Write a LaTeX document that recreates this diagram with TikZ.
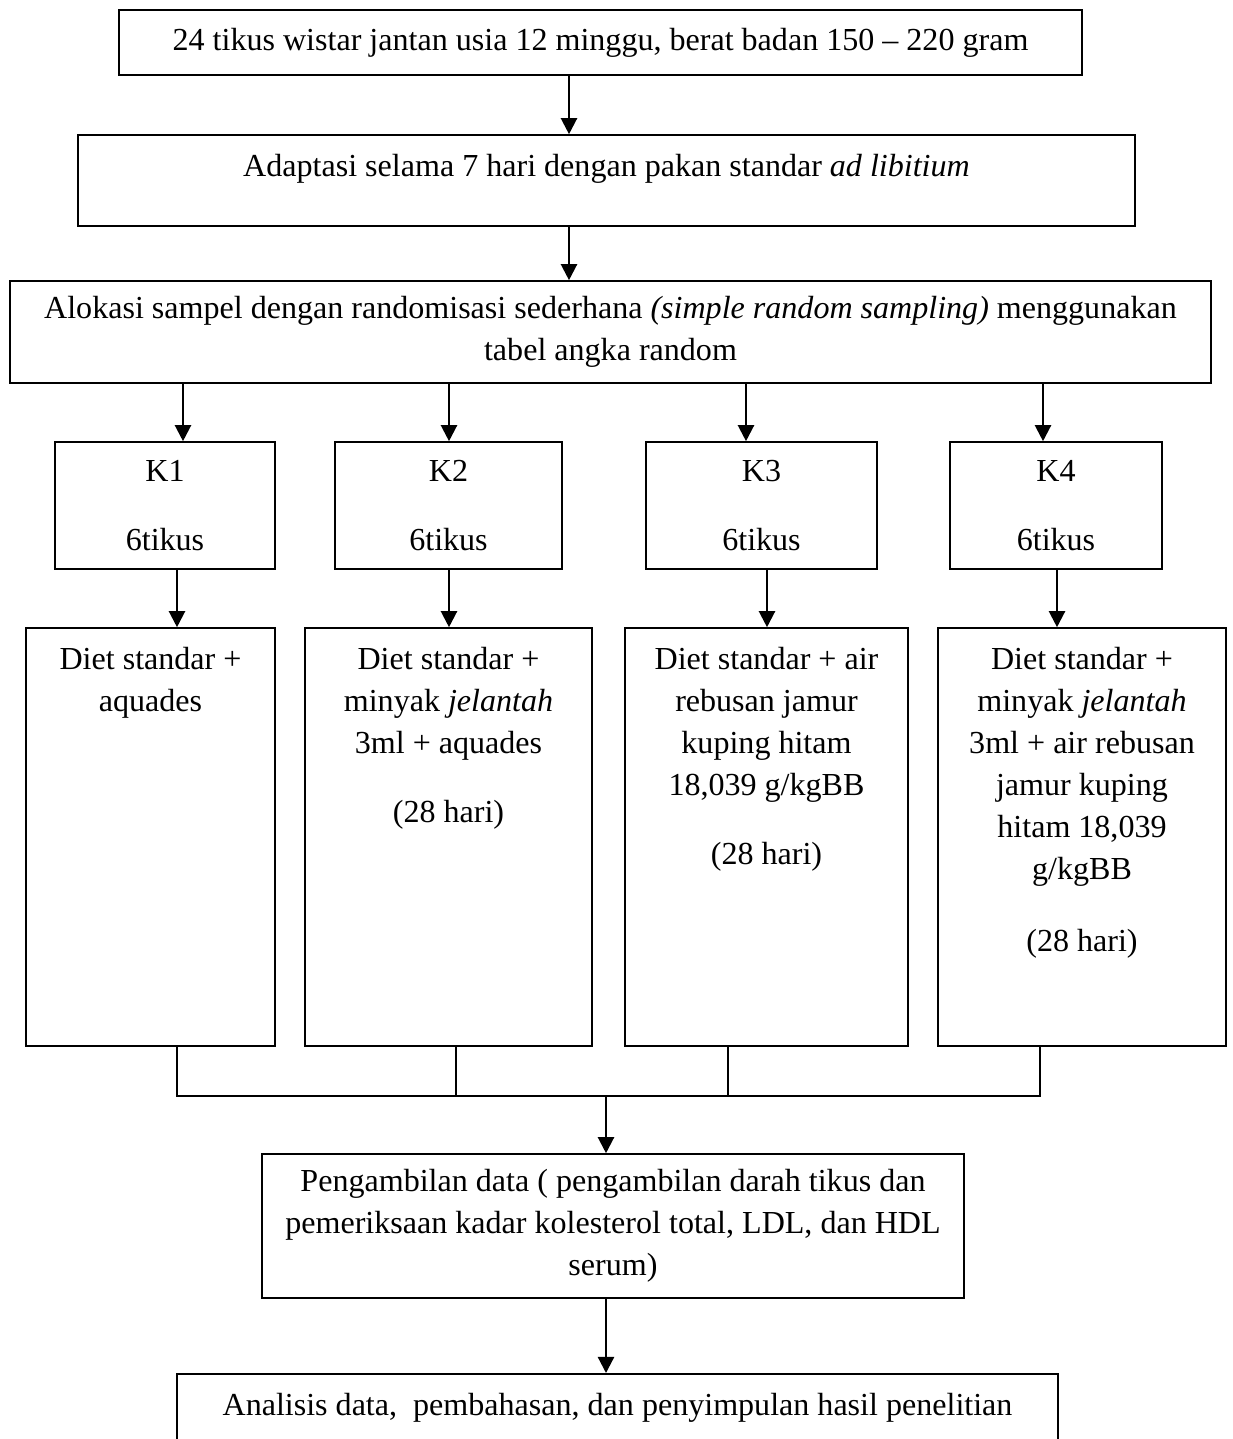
\documentclass[tikz,border=0pt]{standalone}
\usepackage{fontspec}
\setmainfont{Liberation Serif}
\usetikzlibrary{calc,arrows.meta,positioning}
\newlength{\px}
\setlength{\px}{0.40545pt}

\begin{document}
\begin{tikzpicture}[x=\px, y=-\px,
  font=\fontsize{13pt}{17pt}\selectfont,
  box/.style={draw, line width=0.65pt, inner sep=0pt, align=center},
  txt/.style={inner sep=0pt, align=center, anchor=north},
  flow/.style={line width=0.9pt, -{Triangle[width=6.5pt,length=6.5pt]}},
  busline/.style={line width=0.5pt}]
\useasboundingbox (0,0) rectangle (1232,1439);
\clip (0,0) rectangle (1232,1439);

% top of the flow
\node[box, minimum width=963\px, minimum height=65\px] (rats) at (600.5,42.5)
  {24 tikus wistar jantan usia 12 minggu, berat badan 150 -- 220 gram};
\node[box, minimum width=1057\px, minimum height=91\px] (adapt) at (606.5,180.5) {};
\node[txt] (adapttxt) at ($(adapt.north)+(0,20)$)
  {Adaptasi selama 7 hari dengan pakan standar \textit{ad libitium}};
\node[box, minimum width=1201\px, minimum height=102\px] (alloc) at (610.5,332)
  {Alokasi sampel dengan randomisasi sederhana \textit{(simple random sampling)} menggunakan\\
   tabel angka random};
\draw[flow] (rats.south -| 569,0) -- (adapt.north -| 569,0);
\draw[flow] (adapt.south -| 569,0) -- (alloc.north -| 569,0);

% groups
\foreach \n/\cx/\w in {1/165/220, 2/448.5/227, 3/761.5/231, 4/1056/212}
  \node[box, minimum width=\w\px, minimum height=127\px] (k\n) at (\cx,505.5) {K\n\\[11pt]6tikus};
\draw[flow] (alloc.south -| 183,0) -- (k1.north -| 183,0);
\draw[flow] (alloc.south -| 449,0) -- (k2.north -| 449,0);
\draw[flow] (alloc.south -| 746,0) -- (k3.north -| 746,0);
\draw[flow] (alloc.south -| 1043,0) -- (k4.north -| 1043,0);

% treatments
\node[box, minimum width=249\px, minimum height=418\px] (d1) at (150.5,837) {};
\node[box, minimum width=287\px, minimum height=418\px] (d2) at (448.5,837) {};
\node[box, minimum width=283\px, minimum height=418\px] (d3) at (766.5,837) {};
\node[box, minimum width=288\px, minimum height=418\px] (d4) at (1082,837) {};
\node[txt] (d1txt) at ($(d1.north)+(0,20)$) {Diet standar +\\ aquades};
\node[txt] (d2txt) at ($(d2.north)+(0,20)$)
  {Diet standar +\\ minyak \textit{jelantah}\\ 3ml + aquades\\[11pt] (28 hari)};
\node[txt] (d3txt) at ($(d3.north)+(0,20)$)
  {Diet standar + air\\ rebusan jamur\\ kuping hitam\\ 18,039 g/kgBB\\[11pt] (28 hari)};
\node[txt] (d4txt) at ($(d4.north)+(0,20)$)
  {Diet standar +\\ minyak \textit{jelantah}\\ 3ml + air rebusan\\ jamur kuping\\ hitam 18,039\\ g/kgBB\\[12pt] (28 hari)};
\draw[flow] (k1.south -| 177,0) -- (d1.north -| 177,0);
\draw[flow] (k2.south -| 449,0) -- (d2.north -| 449,0);
\draw[flow] (k3.south -| 767,0) -- (d3.north -| 767,0);
\draw[flow] (k4.south -| 1057,0) -- (d4.north -| 1057,0);

% collect
\coordinate (bus) at (606,1096);
\draw[busline] (d1.south -| 177,0) |- (bus);
\draw[busline] (d4.south -| 1040,0) |- (bus);
\draw[busline] (d2.south -| 456,0) -- (bus -| 456,0);
\draw[busline] (d3.south -| 728,0) -- (bus -| 728,0);

\node[box, minimum width=702\px, minimum height=144\px] (data) at (613,1226)
  {Pengambilan data ( pengambilan darah tikus dan\\
   pemeriksaan kadar kolesterol total, LDL, dan HDL\\
   serum)};
\node[box, minimum width=881\px, minimum height=120\px, anchor=north] (result) at (617.5,1373) {};
\node[txt] (resulttxt) at ($(result.north)+(0,20)$)
  {Analisis data,~ pembahasan, dan penyimpulan hasil penelitian};
\draw[flow] (bus) -- (data.north -| bus);
\draw[flow] (data.south -| bus) -- (result.north -| bus);
\end{tikzpicture}
\end{document}
